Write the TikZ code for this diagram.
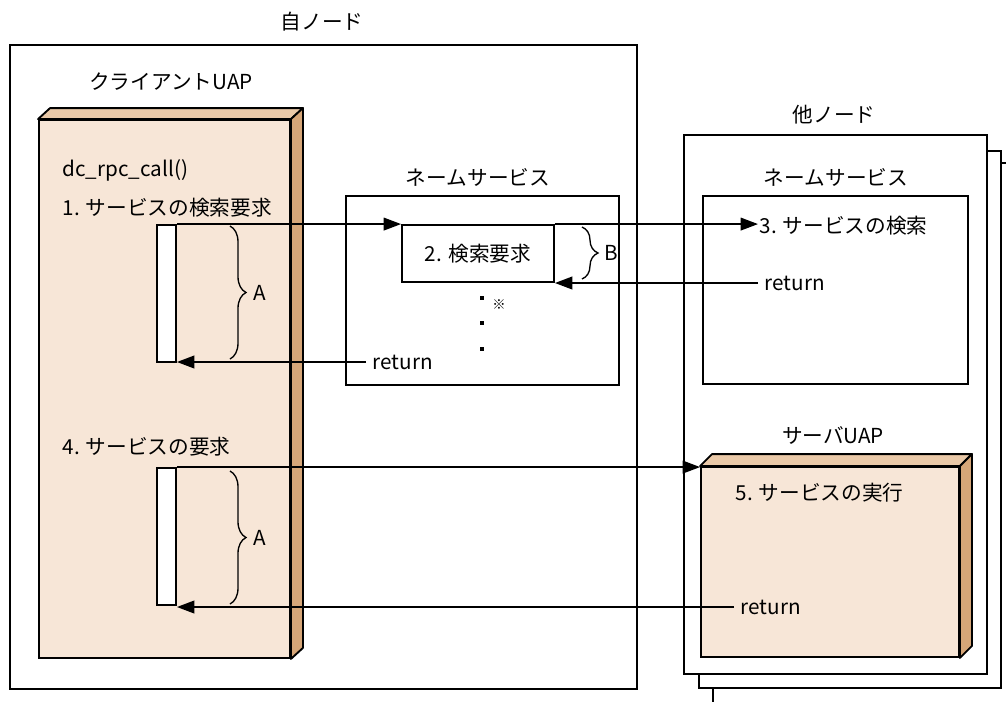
\documentclass[tikz,border=0pt]{standalone}
\usepackage{fontspec}
\setmainfont{Noto Sans CJK JP}
\usepackage{xcolor}
\usetikzlibrary{positioning,fit,arrows.meta,decorations.pathreplacing}
\definecolor{uapfront}{RGB}{247,230,215}
\definecolor{uaptop}{RGB}{234,201,168}
\definecolor{uapside}{RGB}{214,166,120}

\begin{document}
\begin{tikzpicture}[x=0.75pt, y=-0.75pt, font=\fontsize{15.5}{18}\selectfont,
    frame/.style={draw, line width=1.4pt, fill=white, inner sep=0pt},
    uap/.style={draw, line width=1.4pt, fill=uapfront, inner sep=0pt},
    face/.style={draw, line width=1.4pt, line join=round},
    bar/.style={draw, line width=1.4pt, fill=white, inner sep=0pt},
    txt/.style={inner sep=1pt},
    rettxt/.style={inner sep=1pt, outer sep=4pt, anchor=west},
    line/.style={draw, line width=1.2pt, -{Triangle[length=13pt,width=9.5pt]}},
    brace/.style={draw, line width=1pt, decorate, decoration={brace, amplitude=12pt}},
    dotmark/.style={fill, minimum size=3pt, inner sep=0pt}]

    \useasboundingbox (0,0) rectangle (1006,701);

    % Own node
    \node [frame, fit={(10,45)(637,689)}] (own) {};
    \node [txt] (ownlabel) at (322,22) {自ノード};

    % Client UAP
    \node [uap, fit={(39,120)(290,658)}] (client) {};
    \path [face, fill=uaptop] (client.north west) -- ++(12,-11) -- ([shift={(12,-11)}]client.north east) -- (client.north east) -- cycle;
    \path [face, fill=uapside] (client.north east) -- ++(12,-11) -- ([shift={(12,-11)}]client.south east) -- (client.south east) -- cycle;
    \node [txt] (clientlabel) at (171,82) {クライアントUAP};
    \node [txt, anchor=west] (call) at (61,170) {dc\_rpc\_call()};
    \node [txt, anchor=west] (step1) at (61,208) {1. サービスの検索要求};
    \node [txt, anchor=west] (step4) at (61,447) {4. サービスの要求};
    \node [bar, fit={(157,225)(176,362)}] (bar1) {};
    \node [bar, fit={(157,468)(176,605)}] (bar2) {};

    % Name service (own node)
    \node [frame, fit={(346,196)(619,385)}] (ns) {};
    \node [txt] (nslabel) at (478,177) {ネームサービス};
    \node [bar, fit={(402,225)(554,282)}] (req) {};
    \node [txt] (step2) at (req.center) {2. 検索要求};
    \node [dotmark] (dot1) at (482,298) {};
    \node [dotmark] (dot2) at (482,323) {};
    \node [dotmark] (dot3) at (482,349) {};
    \node [txt, font=\fontsize{10}{12}\selectfont] (note) at (499,305) {※};
    \node [rettxt] (ret2) at (366,362) {return};

    % Other node
    \node [frame, fit={(713,163)(1030,720)}] (back2) {};
    \node [frame, fit={(699,151)(1001,688)}] (back1) {};
    \node [frame, fit={(684,135)(987,674)}] (other) {};
    \node [txt] (otherlabel) at (834,115) {他ノード};
    \node [frame, fit={(703,196)(968,384)}] (ons) {};
    \node [txt] (onslabel) at (836,177) {ネームサービス};
    \node [txt, anchor=west] (search) at (758,226) {3. サービスの検索};
    \node [rettxt] (ret1) at (758,283) {return};

    % Server UAP
    \node [uap, fit={(701,467)(959,657)}] (server) {};
    \path [face, fill=uaptop] (server.north west) -- ++(12,-12) -- ([shift={(12,-12)}]server.north east) -- (server.north east) -- cycle;
    \path [face, fill=uapside] (server.north east) -- ++(12,-12) -- ([shift={(12,-12)}]server.south east) -- (server.south east) -- cycle;
    \node [txt] (serverlabel) at (833,436) {サーバUAP};
    \node [txt, anchor=west] (step5) at (734,493) {5. サービスの実行};
    \node [rettxt] (ret3) at (734,607) {return};

    % Braces
    \draw [brace] (230,226) -- (230,359);
    \node [txt] (bracea1) at (260,293) {A};
    \draw [brace] (230,471) -- (230,604);
    \node [txt] (bracea2) at (260,538) {A};
    \draw [brace] (582,227) -- (582,279);
    \node [txt] (braceb) at (611,253) {B};

    % Arrows
    \path [line] (bar1.north east) -- (req.north west);
    \path [line] (req.north east) -- (req.north east -| search.west);
    \path [line] (ret1.west) -- (ret1.west -| req.east);
    \path [line] (ret2.west) -- (ret2.west -| bar1.east);
    \path [line] (bar2.north east) -- (bar2.north east -| server.west);
    \path [line] (ret3.west) -- (ret3.west -| bar2.east);
\end{tikzpicture}
\end{document}
